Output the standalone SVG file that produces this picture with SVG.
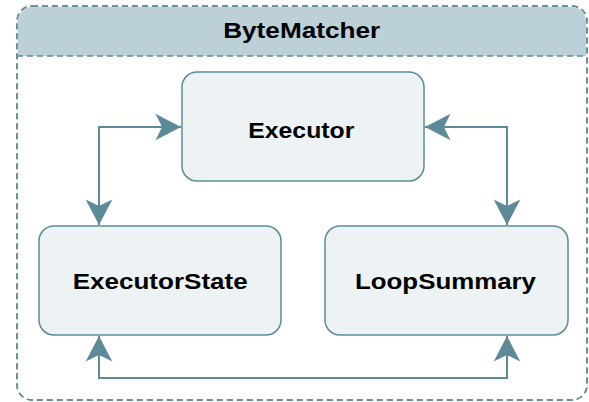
<svg xmlns="http://www.w3.org/2000/svg" width="589" height="402" viewBox="0 0 589 402">
<style>
.cont{fill:#ffffff;stroke:#5d8a99;stroke-width:1.5;stroke-dasharray:6,4}
.hdr{fill:#bcd0d7;stroke:none}
.node{fill:#edf2f5;stroke:#5d8a99;stroke-width:1.5}
.lbl{font-family:"Liberation Sans",Arial,sans-serif;font-weight:bold;font-size:22px;fill:#000;text-anchor:middle}
.edge{fill:none;stroke:#5d8a99;stroke-width:2}
</style>
<defs>
<marker id="ah" markerUnits="userSpaceOnUse" markerWidth="30" markerHeight="30" viewBox="-25 -13 27 26" refX="0" refY="0" orient="auto-start-reverse">
<path d="M0,0 L-23,-12 L-17,0 L-23,12 Z" fill="#5d8a99"/>
</marker>
</defs>
<g id="ByteMatcher">
<rect class="cont" x="17" y="6" width="570" height="394" rx="15"/>
<path class="hdr" d="M17.8,56 V21 A15,15 0 0 1 32,6.8 H572 A15,15 0 0 1 586.2,21 V56 Z"/>
<rect x="17" y="6" width="570" height="394" rx="15" fill="none" stroke="#5d8a99" stroke-width="1.5" stroke-dasharray="6,4"/>
<line x1="17" y1="56" x2="587" y2="56" stroke="#5d8a99" stroke-width="1.5" stroke-dasharray="6,4"/>
<text class="lbl" x="301.7" y="38.3" textLength="157" lengthAdjust="spacingAndGlyphs">ByteMatcher</text>
</g>
<g id="Executor">
<rect class="node" x="182" y="72" width="242" height="109" rx="15"/>
<text class="lbl" x="301.3" y="138.3" textLength="106" lengthAdjust="spacingAndGlyphs">Executor</text>
</g>
<g id="ExecutorState">
<rect class="node" x="39" y="226" width="242" height="109" rx="15"/>
<text class="lbl" x="160.2" y="288.8" textLength="175" lengthAdjust="spacingAndGlyphs">ExecutorState</text>
</g>
<g id="LoopSummary">
<rect class="node" x="325" y="226" width="243" height="109" rx="15"/>
<text class="lbl" x="445.5" y="288.8" textLength="181" lengthAdjust="spacingAndGlyphs">LoopSummary</text>
</g>
<g id="connectors">
<path class="edge" d="M99,225 V127 H181" marker-start="url(#ah)" marker-end="url(#ah)"/>
<path class="edge" d="M425,127 H507 V225" marker-start="url(#ah)" marker-end="url(#ah)"/>
<path class="edge" d="M99,336 V378 H507 V336" marker-start="url(#ah)" marker-end="url(#ah)"/>
</g>
</svg>
